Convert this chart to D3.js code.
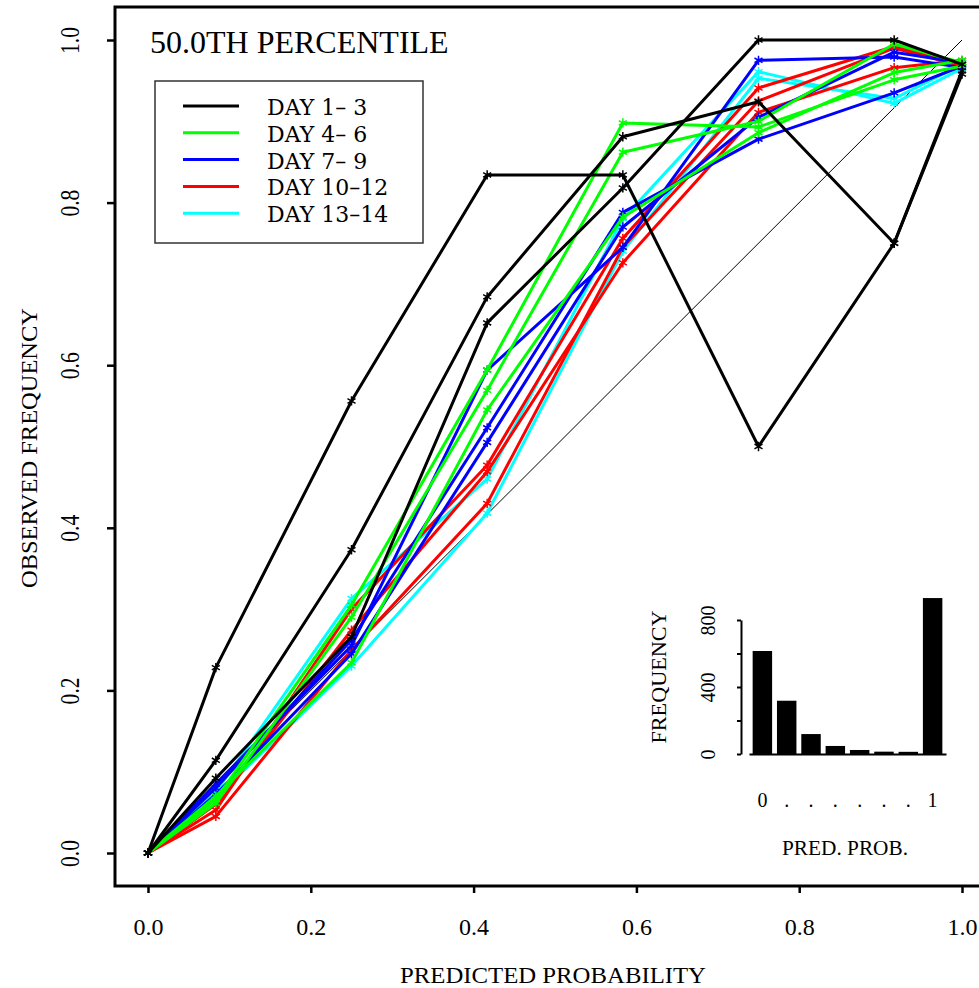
<!DOCTYPE html>
<html>
<head>
<meta charset="utf-8">
<script src="https://cdn.jsdelivr.net/npm/d3@7"></script>
<style>
  body { margin: 0; background: #fff; }
  svg text { font-family: "Liberation Serif", "Times New Roman", serif; fill: #000; }
</style>
</head>
<body>
<div class="reliability"></div>
<script>
// predicted probability bins (x positions of the points)
var predProb = [0, 1/12, 3/12, 5/12, 7/12, 9/12, 11/12, 1];

// observed frequency per forecast day
var day1  = [0, 0.228, 0.556, 0.834, 0.834, 0.500, 0.750, 0.962];
var day2  = [0, 0.114, 0.373, 0.684, 0.881, 0.924, 0.750, 0.958];
var day3  = [0, 0.092, 0.266, 0.652, 0.818, 1.000, 1.000, 0.970];
var day4  = [0, 0.066, 0.305, 0.594, 0.898, 0.893, 0.951, 0.968];
var day5  = [0, 0.061, 0.290, 0.569, 0.862, 0.900, 0.995, 0.972];
var day6  = [0, 0.070, 0.234, 0.545, 0.782, 0.886, 0.960, 0.975];
var day7  = [0, 0.085, 0.255, 0.594, 0.745, 0.975, 0.979, 0.966];
var day8  = [0, 0.080, 0.262, 0.523, 0.788, 0.878, 0.935, 0.968];
var day9  = [0, 0.072, 0.245, 0.505, 0.770, 0.905, 0.985, 0.972];
var day10 = [0, 0.053, 0.300, 0.477, 0.756, 0.941, 0.992, 0.970];
var day11 = [0, 0.060, 0.274, 0.469, 0.726, 0.911, 0.966, 0.975];
var day12 = [0, 0.045, 0.250, 0.430, 0.745, 0.925, 0.990, 0.968];
var day13 = [0, 0.075, 0.313, 0.460, 0.780, 0.961, 0.922, 0.965];
var day14 = [0, 0.068, 0.230, 0.418, 0.740, 0.953, 0.928, 0.970];

var groupLabels = ["DAY 1\u2013 3", "DAY 4\u2013 6", "DAY 7\u2013 9", "DAY 10\u201312", "DAY 13\u201314"];
var groupColors = ["#000000", "#00ff00", "#0000ff", "#ff0000", "#00ffff"];
var groupDays = [[day1, day2, day3], [day4, day5, day6], [day7, day8, day9], [day10, day11, day12], [day13, day14]];

var axisTicks = [0, 0.2, 0.4, 0.6, 0.8, 1.0];

// inset histogram of predicted probabilities
var histFreq = [615, 318, 119, 48, 24, 14, 13, 931];
var histLabels = ["0", ".", ".", ".", ".", ".", ".", "1"];
var histTicks = [0, 200, 400, 600, 800];

var W = 979, H = 988;

var svg = d3.select(".reliability")
  .append("svg")
    .attr("width", W)
    .attr("height", H);

var x = d3.scaleLinear().domain([0, 1]).range([148, 962]);
var y = d3.scaleLinear().domain([0, 1]).range([853, 40]);

// frame
svg.append("rect")
  .attr("x", 115).attr("y", 7)
  .attr("width", 900).attr("height", 879)
  .attr("fill", "none")
  .attr("stroke", "#000")
  .attr("stroke-width", 3);

// Y axis
var gy = svg.append("g")
  .attr("transform", "translate(115,0)")
  .call(d3.axisLeft(y).tickValues(axisTicks).tickSize(8).tickFormat(d3.format(".1f")));
gy.select(".domain").remove();
gy.selectAll(".tick line").attr("stroke-width", 2.5);
gy.selectAll(".tick text")
  .attr("x", 0).attr("dy", 0)
  .attr("transform", "translate(-36,0) rotate(-90) scale(0.9,1.1)")
  .attr("text-anchor", "middle")
  .style("font-size", "24px");

// X axis
var gx = svg.append("g")
  .attr("transform", "translate(0,886)")
  .call(d3.axisBottom(x).tickValues(axisTicks).tickSize(7).tickFormat(d3.format(".1f")));
gx.select(".domain").remove();
gx.selectAll(".tick line").attr("stroke-width", 2.5);
gx.selectAll(".tick text")
  .attr("y", 49).attr("dy", 0)
  .style("font-size", "24px");

// axis titles
svg.append("text")
  .attr("x", 553).attr("y", 983)
  .attr("text-anchor", "middle")
  .style("font-size", "24px")
  .attr("textLength", 306)
  .attr("lengthAdjust", "spacingAndGlyphs")
  .text("PREDICTED PROBABILITY");

svg.append("text")
  .attr("transform", "translate(37,448) rotate(-90)")
  .attr("text-anchor", "middle")
  .style("font-size", "24px")
  .attr("textLength", 280)
  .attr("lengthAdjust", "spacingAndGlyphs")
  .text("OBSERVED FREQUENCY");

// perfect reliability diagonal
svg.append("line")
  .attr("x1", x(0)).attr("y1", y(0))
  .attr("x2", x(1)).attr("y2", y(1))
  .attr("stroke", "#000")
  .attr("stroke-width", 1);

// curves, drawn last group first so black ends up on top
var line = d3.line()
  .x(function(d, i) { return x(predProb[i]); })
  .y(function(d) { return y(d); });

var star = d3.symbol().type(d3.symbolAsterisk).size(60);

for (var g = groupDays.length - 1; g >= 0; g--) {
  groupDays[g].forEach(function(vals) {
    svg.append("path")
      .datum(vals)
      .attr("d", line)
      .attr("fill", "none")
      .attr("stroke", groupColors[g])
      .attr("stroke-width", 3)
      .attr("stroke-linejoin", "round");

    svg.selectAll(null)
      .data(vals)
      .enter()
      .append("path")
        .attr("d", star)
        .attr("transform", function(d, i) { return "translate(" + x(predProb[i]) + "," + y(d) + ")"; })
        .attr("fill", "none")
        .attr("stroke", groupColors[g])
        .attr("stroke-width", 1.5);
  });
}

// title
svg.append("text")
  .attr("x", 150).attr("y", 53)
  .style("font-size", "32px")
  .text("50.0TH PERCENTILE");

// legend
var legend = svg.append("g");
legend.append("rect")
  .attr("x", 155).attr("y", 81)
  .attr("width", 268).attr("height", 162)
  .attr("fill", "#fff")
  .attr("stroke", "#333")
  .attr("stroke-width", 1.5);

legend.selectAll("line")
  .data(groupLabels)
  .enter()
  .append("line")
    .attr("x1", 183).attr("x2", 239)
    .attr("y1", function(d, i) { return 106 + i * 26.8; })
    .attr("y2", function(d, i) { return 106 + i * 26.8; })
    .attr("stroke", function(d, i) { return groupColors[i]; })
    .attr("stroke-width", 3);

legend.selectAll("text")
  .data(groupLabels)
  .enter()
  .append("text")
    .attr("x", 267)
    .attr("y", function(d, i) { return 115 + i * 26.8; })
    .style("font-size", "22px")
    .style("font-family", "'DejaVu Serif', serif")
    .text(function(d) { return d; });

// inset histogram
var hx = d3.scaleBand()
  .domain(d3.range(histFreq.length))
  .range([749, 946])
  .paddingInner(0.2)
  .paddingOuter(0.15);
var hy = d3.scaleLinear().domain([0, 800]).range([754, 620]);

svg.selectAll(".hbar")
  .data(histFreq)
  .enter()
  .append("rect")
    .attr("class", "hbar")
    .attr("x", function(d, i) { return hx(i); })
    .attr("y", function(d) { return hy(d); })
    .attr("width", hx.bandwidth())
    .attr("height", function(d) { return hy(0) - hy(d); })
    .attr("fill", "#000");

var hgy = svg.append("g")
  .attr("transform", "translate(741,0)")
  .call(d3.axisLeft(hy).tickValues(histTicks).tickSize(4).tickSizeOuter(0)
    .tickFormat(function(d) { return d % 400 === 0 ? d : ""; }));
hgy.select(".domain").attr("stroke-width", 2);
hgy.selectAll(".tick line").attr("stroke-width", 2);
hgy.selectAll(".tick text")
  .attr("x", 0).attr("dy", 0)
  .attr("transform", "translate(-26,0) rotate(-90)")
  .attr("text-anchor", "middle")
  .style("font-size", "20px");

var hgx = svg.append("g")
  .attr("transform", "translate(0,754)")
  .call(d3.axisBottom(hx).tickSize(0).tickSizeOuter(0)
    .tickFormat(function(i) { return histLabels[i]; }));
hgx.select(".domain").attr("stroke-width", 2);
hgx.selectAll(".tick text")
  .attr("y", 53).attr("dy", 0)
  .style("font-size", "20px");

svg.append("text")
  .attr("x", 845).attr("y", 855)
  .attr("text-anchor", "middle")
  .style("font-size", "21px")
  .attr("textLength", 126)
  .attr("lengthAdjust", "spacingAndGlyphs")
  .text("PRED. PROB.");

svg.append("text")
  .attr("transform", "translate(666,677) rotate(-90)")
  .attr("text-anchor", "middle")
  .style("font-size", "22px")
  .attr("textLength", 133)
  .attr("lengthAdjust", "spacingAndGlyphs")
  .text("FREQUENCY");
</script>
</body>
</html>
